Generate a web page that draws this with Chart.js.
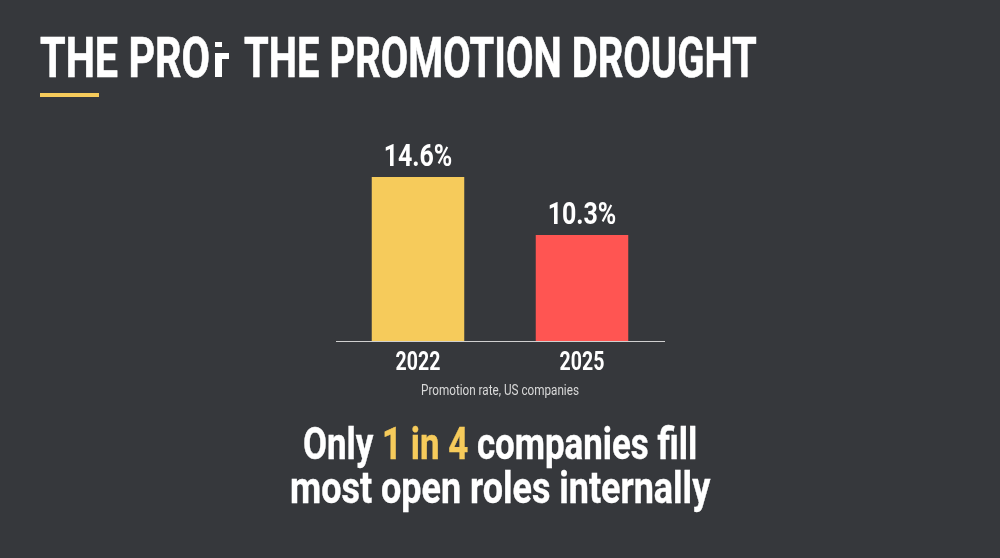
<!DOCTYPE html>
<html>
<head>
<meta charset="utf-8">
<title>The promotion drought</title>
<script src="https://cdn.jsdelivr.net/npm/chart.js@4"></script>
<style>
  html, body { margin:0; padding:0; background:#36383c; }
  body { width:1000px; height:558px; position:relative; overflow:hidden; font-family:Roboto,sans-serif; color:#fff; }
  #chartWrap { position:absolute; left:0; top:0; width:1000px; height:558px; }
  .title { position:absolute; top:26px; margin:0; font-size:55px; line-height:64px; font-weight:700; white-space:nowrap; transform-origin:left top; -webkit-text-stroke:0.6px #fff; }
  .glitch { position:absolute; background:#fff; }
  .rule { position:absolute; left:40px; top:93px; width:59px; height:4px; background:#f6cb5b; }
  .line { position:absolute; font-size:44px; line-height:46px; font-weight:700; white-space:nowrap; transform-origin:left top; -webkit-text-stroke:0.4px #fff; }
  .line span { color:#f6cb5b; -webkit-text-stroke:0.4px #f6cb5b; }
</style>
</head>
<body>
<div id="chartWrap"><canvas id="promoChart" width="1000" height="558"></canvas></div>
<div class="title" style="left:40px" data-w="170">THE PRO</div>
<div class="glitch" style="left:215px;top:42px;width:7px;height:5px"></div>
<div class="glitch" style="left:215px;top:53px;width:14px;height:6px"></div>
<div class="glitch" style="left:215px;top:59px;width:7px;height:18px"></div>
<div class="title" style="left:244px" data-w="513">THE PROMOTION DROUGHT</div>
<div class="rule"></div>
<div class="line" style="left:303px;top:421px" data-w="394">Only <span>1 in 4</span> companies fill</div>
<div class="line" style="left:290px;top:465px" data-w="420">most open roles internally</div>
<script>
const years = ["2022", "2025"];
const promotionRate = [14.6, 10.3];
const barColors = ["#f6cb5b", "#ff5552"];
const axisTitle = "Promotion rate, US companies";
const condense = 0.78; // no condensed font installed, squeeze Roboto instead

function squeezedText(ctx, text, x, y) {
  ctx.save();
  ctx.translate(x, y);
  ctx.scale(condense, 1);
  ctx.fillText(text, 0, 0);
  ctx.restore();
}

// value labels, tick labels and axis title all need the squeeze so they are drawn here
const chartText = {
  id: "chartText",
  afterDatasetsDraw(chart) {
    const ctx = chart.ctx;
    const xScale = chart.scales.x;
    ctx.save();
    ctx.textAlign = "center";
    ctx.textBaseline = "alphabetic";
    ctx.fillStyle = "#fff";
    chart.getDatasetMeta(0).data.forEach((bar, i) => {
      ctx.font = "700 32px Roboto";
      squeezedText(ctx, promotionRate[i].toFixed(1) + "%", bar.x, bar.y - 11);
      ctx.font = "700 25px Roboto";
      squeezedText(ctx, years[i], xScale.getPixelForValue(i), xScale.bottom + 29);
    });
    ctx.fillStyle = "#d9d9d9";
    ctx.font = "400 15px Roboto";
    squeezedText(ctx, axisTitle, (xScale.left + xScale.right) / 2, xScale.bottom + 54);
    ctx.restore();
  }
};

new Chart(document.getElementById("promoChart"), {
  type: "bar",
  data: {
    labels: years,
    datasets: [{ data: promotionRate, backgroundColor: barColors, barPercentage: 0.564, categoryPercentage: 1 }]
  },
  options: {
    responsive: false,
    animation: false,
    layout: { padding: { left: 336, right: 336, top: 158, bottom: 217 } },
    plugins: { legend: { display: false }, tooltip: { enabled: false } },
    scales: {
      x: {
        grid: { display: false, drawTicks: false },
        border: { color: "#d0d0d0", width: 1 },
        ticks: { display: false }
      },
      y: { display: false, min: 2.45, max: 16 }
    }
  },
  plugins: [chartText]
});

// fit the page text to its measured width
document.querySelectorAll("[data-w]").forEach(el => {
  el.style.transform = `scaleX(${el.dataset.w / el.offsetWidth})`;
});
</script>
</body>
</html>
